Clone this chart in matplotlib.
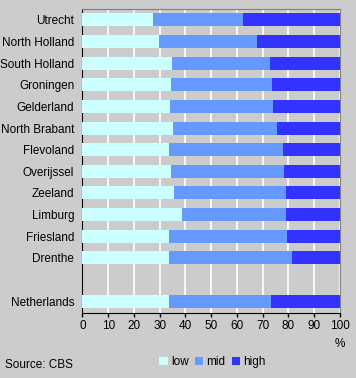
import numpy as np
import matplotlib
matplotlib.use("Agg")
from matplotlib import pyplot as plt

plt.rcParams['font.family'] = ['Liberation Sans', 'DejaVu Sans']

regions = ["Utrecht", "North Holland", "South Holland", "Groningen", "Gelderland",
           "North Brabant", "Flevoland", "Overijssel", "Zeeland", "Limburg",
           "Friesland", "Drenthe", "Netherlands"]
low = [27.4, 29.7, 34.8, 34.4, 34.0, 35.1, 33.6, 34.4, 35.5, 38.6, 33.6, 33.6, 33.6]
mid = [34.9, 38.1, 38.0, 39.2, 40.0, 40.4, 44.3, 43.9, 43.5, 40.4, 45.8, 47.8, 39.6]
high = [100 - a - b for a, b in zip(low, mid)]

#gap row before the national total
pos = list(range(12)) + [13]

bg = "#cccccc"
fig = plt.figure(figsize=(3.56, 3.78), dpi=100, facecolor=bg)
ax = fig.add_axes([0.2317, 0.172, 0.7233, 0.804])
ax.set_facecolor(bg)

h = 0.6
ax.barh(pos, low, height=h, color="#ccffff", label="low", zorder=3)
ax.barh(pos, mid, left=low, height=h, color="#6699ff", label="mid", zorder=3)
left2 = [a + b for a, b in zip(low, mid)]
ax.barh(pos, high, left=left2, height=h, color="#3333ff", label="high", zorder=3)

ax.set_xlim(0, 100)
ax.set_ylim(13.55, -0.5)
ax.set_xticks(np.arange(0, 101, 10))
ax.set_yticks(pos)
ax.set_yticklabels(regions)
ax.tick_params(axis="y", length=0, pad=6, labelsize=8.5)
ax.tick_params(axis="x", length=3, width=1, pad=2, labelsize=8.5, direction="out")
ax.xaxis.grid(True, color="white", linewidth=1.2, zorder=0)
ax.set_axisbelow(True)

for s in ["top", "right"]:
    ax.spines[s].set_color("#808080")
for s in ["left", "bottom"]:
    ax.spines[s].set_color("black")

fig.text(340 / 356, 1 - 344 / 378, "%", ha="center", va="center", fontsize=8.5)
fig.text(5 / 356, 1 - 365 / 378, "Source: CBS", ha="left", va="center", fontsize=8.5)

fig.legend(loc="center", bbox_to_anchor=(0.597, 1 - 362 / 378), ncol=3, frameon=False,
           handlelength=0.7, handleheight=0.7, handletextpad=0.3, columnspacing=0.5,
           fontsize=8.5)

plt.savefig("out.png", dpi=100, facecolor=bg)
